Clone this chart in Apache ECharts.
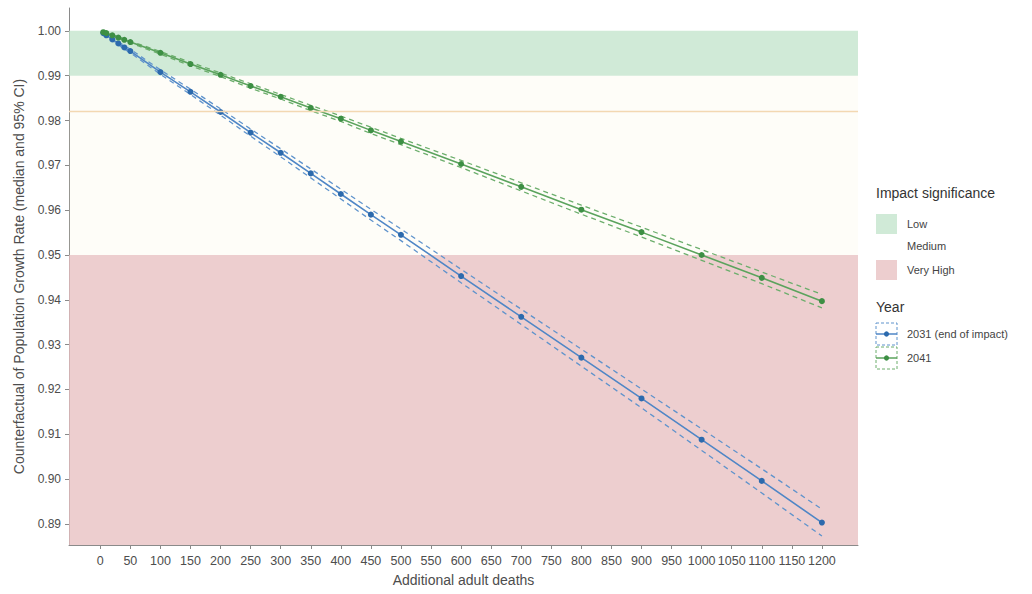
<!DOCTYPE html>
<html>
<head>
<meta charset="utf-8">
<script src="https://cdn.jsdelivr.net/npm/echarts@6/dist/echarts.min.js"></script>
<style>
html,body{margin:0;padding:0;background:#fff;}
#chart{width:1032px;height:594px;}
</style>
</head>
<body>
<div id="chart"></div>
<script>
// ---- data ----
const deaths = [5,10,20,30,40,50,100,150,200,250,300,350,400,450,500,600,700,800,900,1000,1100,1200];
const median2031 = [0.9995,0.9990,0.9981,0.9972,0.9963,0.9955,0.9908,0.9864,0.9819,0.9773,0.9728,0.9682,0.9636,0.9590,0.9545,0.9453,0.9362,0.9271,0.9180,0.9088,0.8996,0.8903];
const upper2031  = [0.9997,0.9992,0.9984,0.9975,0.9967,0.9959,0.9913,0.9870,0.9826,0.9781,0.9737,0.9692,0.9647,0.9602,0.9558,0.9468,0.9379,0.9290,0.9201,0.9112,0.9023,0.8933];
const lower2031  = [0.9993,0.9988,0.9978,0.9969,0.9959,0.9951,0.9903,0.9858,0.9812,0.9765,0.9719,0.9672,0.9625,0.9578,0.9532,0.9438,0.9345,0.9252,0.9159,0.9064,0.8969,0.8873];
const median2041 = [0.9997,0.9995,0.9990,0.9985,0.9980,0.9975,0.9951,0.9926,0.9902,0.9877,0.9853,0.9828,0.9804,0.9778,0.9753,0.9703,0.9652,0.9601,0.9551,0.9500,0.9449,0.9397];
const upper2041  = [0.9998,0.9996,0.9991,0.9987,0.9982,0.9977,0.9954,0.9930,0.9906,0.9882,0.9858,0.9834,0.9810,0.9785,0.9760,0.9711,0.9661,0.9611,0.9562,0.9512,0.9462,0.9412];
const lower2041  = [0.9996,0.9994,0.9989,0.9983,0.9978,0.9973,0.9948,0.9922,0.9898,0.9872,0.9848,0.9822,0.9798,0.9771,0.9746,0.9695,0.9643,0.9591,0.9540,0.9488,0.9436,0.9382];
const xTicks = [0,50,100,150,200,250,300,350,400,450,500,550,600,650,700,750,800,850,900,950,1000,1050,1100,1150,1200];
const yTicks = [0.89,0.90,0.91,0.92,0.93,0.94,0.95,0.96,0.97,0.98,0.99,1.00];
const bandNames = ['Low','Medium','Very High'];
const bandFrom  = [0.99, 0.95, 0.8853];
const bandTo    = [1.00, 0.99, 0.95];
const refLine = 0.9821;
const yearNames = ['2031 (end of impact)','2041'];

const FONT = '"Liberation Sans", Arial, sans-serif';
const bandColors = ['rgba(192,227,202,0.75)','rgba(245,236,195,0.12)','rgba(231,190,192,0.76)'];
const blueLine='#4f86c6', bluePt='#2c6aad', greenLine='#5ba35d', greenPt='#3d8f44';

const pairs = (ys)=>deaths.map((d,i)=>[d,ys[i]]);

const chart = echarts.init(document.getElementById('chart'), null, {renderer:'svg'});

const bandAreas = bandNames.map((n,i)=>[
  {name:n, yAxis:bandFrom[i], itemStyle:{color:bandColors[i]}},
  {yAxis:bandTo[i]}
]);

function ciSeries(name, data, color){
  return {name, type:'line', data:pairs(data), showSymbol:false, symbol:'none', z:3,
    lineStyle:{color, width:1.3, type:[5,4]}, silent:true, animation:false};
}
function medSeries(name, data, lc, pc){
  return {name, type:'line', data:pairs(data), symbol:'circle', symbolSize:6, z:4,
    lineStyle:{color:lc, width:1.6}, itemStyle:{color:pc}, animation:false};
}

const axisCol = '#8a8a8a', labCol = '#4d4d4d';
const lx = 876;
const option = {
  animation:false,
  grid:{left:69, right:174, top:8, bottom:49},
  xAxis:{type:'value', min:-52, max:1260,
    name:'Additional adult deaths', nameLocation:'middle', nameGap:28,
    nameTextStyle:{fontFamily:FONT, fontSize:14, color:labCol},
    axisLine:{show:true, onZero:false, lineStyle:{color:axisCol}},
    axisTick:{show:true, length:4, customValues:xTicks, lineStyle:{color:axisCol}},
    axisLabel:{customValues:xTicks, fontFamily:FONT, fontSize:12.5, color:labCol, margin:9, hideOverlap:false,
      showMinLabel:true, showMaxLabel:true, formatter:(v)=>String(v)},
    splitLine:{show:false}},
  yAxis:{type:'value', min:0.8853, max:1.0051,
    name:'Counterfactual of Population Growth Rate (median and 95% CI)', nameLocation:'middle', nameGap:43,
    nameTextStyle:{fontFamily:FONT, fontSize:14, color:labCol},
    axisLine:{show:true, onZero:false, lineStyle:{color:axisCol}},
    axisTick:{show:true, length:4, customValues:yTicks, lineStyle:{color:axisCol}},
    axisLabel:{customValues:yTicks, fontFamily:FONT, fontSize:12, color:labCol, margin:8,
      showMinLabel:true, showMaxLabel:true, formatter:(v)=>Number(v).toFixed(2)},
    splitLine:{show:false}},
  series:[
    {name:'bands', type:'line', data:[], z:1, silent:true,
      markArea:{silent:true, label:{show:false}, data:bandAreas},
      markLine:{silent:true, symbol:'none', precision:4, label:{show:false},
        lineStyle:{color:'#f3d8b2', width:1.4, type:'solid'},
        data:[[{coord:[-52, refLine]}, {coord:[1260, refLine]}]]}},
    ciSeries('2031 upper', upper2031, '#5f93cc'),
    ciSeries('2031 lower', lower2031, '#5f93cc'),
    ciSeries('2041 upper', upper2041, '#6cae6c'),
    ciSeries('2041 lower', lower2041, '#6cae6c'),
    medSeries(yearNames[0], median2031, blueLine, bluePt),
    medSeries(yearNames[1], median2041, greenLine, greenPt)
  ],
  graphic:[
    {type:'text', left:lx, top:186, style:{text:'Impact significance', font:'14px '+FONT, fill:'#333'}},
    {type:'rect', shape:{x:lx, y:214, width:21, height:20}, style:{fill:bandColors[0]}},
    {type:'text', left:lx+31, top:218, style:{text:bandNames[0], font:'11px '+FONT, fill:'#444'}},
    {type:'text', left:lx+31, top:240, style:{text:bandNames[1], font:'11px '+FONT, fill:'#444'}},
    {type:'rect', shape:{x:lx, y:260, width:21, height:20}, style:{fill:bandColors[2]}},
    {type:'text', left:lx+31, top:264, style:{text:bandNames[2], font:'11px '+FONT, fill:'#444'}},
    {type:'text', left:lx, top:300, style:{text:'Year', font:'14px '+FONT, fill:'#333'}},
    {type:'rect', shape:{x:lx, y:323, width:21, height:22}, style:{fill:'none', stroke:'#5f93cc', lineWidth:1, lineDash:[3,2]}},
    {type:'line', shape:{x1:lx, y1:334, x2:lx+21, y2:334}, style:{stroke:blueLine, lineWidth:1.5}},
    {type:'circle', shape:{cx:lx+10.5, cy:334, r:2.6}, style:{fill:bluePt}},
    {type:'text', left:lx+31, top:328, style:{text:yearNames[0], font:'11px '+FONT, fill:'#444'}},
    {type:'rect', shape:{x:lx, y:347, width:21, height:22}, style:{fill:'none', stroke:'#6cae6c', lineWidth:1, lineDash:[3,2]}},
    {type:'line', shape:{x1:lx, y1:358, x2:lx+21, y2:358}, style:{stroke:greenLine, lineWidth:1.5}},
    {type:'circle', shape:{cx:lx+10.5, cy:358, r:2.6}, style:{fill:greenPt}},
    {type:'text', left:lx+31, top:352, style:{text:yearNames[1], font:'11px '+FONT, fill:'#444'}}
  ]
};
chart.setOption(option);
</script>
</body>
</html>
